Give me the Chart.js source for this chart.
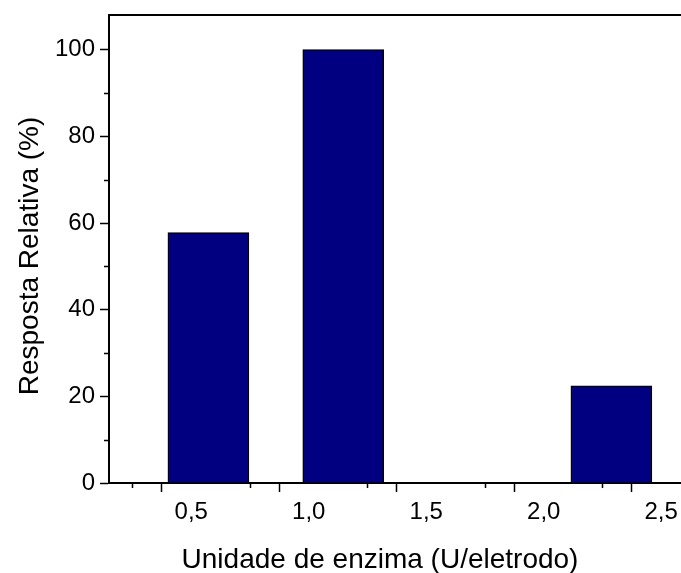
<!DOCTYPE html>
<html>
<head>
<meta charset="utf-8">
<script src="https://cdn.jsdelivr.net/npm/chart.js@4"></script>
<style>
  html, body { margin: 0; padding: 0; background: #fff; overflow: hidden; }
  #wrap { width: 681px; height: 573px; }
</style>
</head>
<body>
<div id="wrap"><canvas id="myChart" width="681" height="573"></canvas></div>
<script>
// bar centres on the x axis (U/eletrodo) and heights (%)
const enzymeUnits = [0.573, 1.147, 2.288];
const relativeResponse = [57.8, 100, 22.4];

// tick positions, majors carry a label
const xTicks = [0.25, 0.5, 0.75, 1.0, 1.25, 1.5, 1.75, 2.0, 2.25, 2.5];
const yTicks = [0, 10, 20, 30, 40, 50, 60, 70, 80, 90, 100];

const xTitle = "Unidade de enzima (U/eletrodo)";
const yTitle = "Resposta Relativa (%)";

const FONT = "Arial, 'Liberation Sans', sans-serif";

function isMajorX(v) { return Math.abs(v * 2 - Math.round(v * 2)) < 1e-6; }
function isMajorY(v) { return v % 20 === 0; }

// Chart.js has one tick length per axis, so the short minor ticks are added here
const minorTicks = {
  id: "minorTicks",
  afterDraw(chart) {
    const ctx = chart.ctx;
    const x = chart.scales.x;
    const y = chart.scales.y;
    ctx.save();
    ctx.strokeStyle = "#000";
    ctx.lineWidth = 1.5;
    ctx.beginPath();
    x.ticks.forEach((t) => {
      if (isMajorX(t.value)) return;
      const px = Math.round(x.getPixelForValue(t.value)) + 0.5;
      ctx.moveTo(px, x.top);
      ctx.lineTo(px, x.top + 5);
    });
    y.ticks.forEach((t) => {
      if (isMajorY(t.value)) return;
      const py = Math.round(y.getPixelForValue(t.value)) + 0.5;
      ctx.moveTo(y.right, py);
      ctx.lineTo(y.right - 5, py);
    });
    ctx.stroke();
    ctx.restore();
  },
};

// axis titles: the original page was wider than this crop, so the x title
// is not centred on the visible plot area
const axisTitles = {
  id: "axisTitles",
  afterDraw(chart) {
    const ctx = chart.ctx;
    ctx.save();
    ctx.fillStyle = "#000";
    ctx.font = "28px " + FONT;
    ctx.textAlign = "center";
    ctx.textBaseline = "alphabetic";
    ctx.fillText(xTitle, 380, 568);
    ctx.translate(38, 256);
    ctx.rotate(-Math.PI / 2);
    ctx.fillText(yTitle, 0, 0);
    ctx.restore();
  },
};

const ctx = document.getElementById("myChart");

new Chart(ctx, {
  type: "bar",
  data: {
    datasets: [{
      data: enzymeUnits.map((u, i) => ({ x: u, y: relativeResponse[i] })),
      backgroundColor: "#000080",
      borderColor: "#000000",
      borderWidth: 1.5,
      barThickness: 81,
    }],
  },
  options: {
    responsive: false,
    animation: false,
    devicePixelRatio: 1,
    layout: { padding: { top: 15, right: 1, bottom: 0, left: 0 } },
    plugins: { legend: { display: false }, tooltip: { enabled: false } },
    scales: {
      x: {
        type: "linear",
        position: "bottom",
        min: 0.15,
        max: 2.58,
        offset: false,
        afterBuildTicks: (s) => { s.ticks = xTicks.map((v) => ({ value: v })); },
        afterFit: (s) => { s.height = 90; s.paddingLeft = 0; s.paddingRight = 0; },
        grid: {
          drawOnChartArea: false,
          drawTicks: true,
          tickLength: 9,
          tickWidth: 1.5,
          tickColor: (c) => (c.tick && isMajorX(c.tick.value) ? "#000" : "rgba(0,0,0,0)"),
        },
        border: { display: true, color: "#000", width: 2 },
        ticks: {
          autoSkip: false,
          maxRotation: 0,
          padding: 6,
          color: "#000",
          font: { family: FONT, size: 24 },
          callback: (v) => (isMajorX(v) ? v.toFixed(1).replace(".", ",") : ""),
        },
        title: { display: false },
      },
      xTop: {
        type: "linear",
        position: "top",
        min: 0.15,
        max: 2.58,
        afterFit: (s) => { s.height = 0; },
        grid: { display: false },
        ticks: { display: false },
        border: { display: true, color: "#000", width: 2 },
      },
      y: {
        min: 0,
        max: 108,
        afterBuildTicks: (s) => { s.ticks = yTicks.map((v) => ({ value: v })); },
        afterFit: (s) => { s.width = 109; s.paddingTop = 0; s.paddingBottom = 0; },
        grid: {
          drawOnChartArea: false,
          drawTicks: true,
          tickLength: 9,
          tickWidth: 1.5,
          tickColor: (c) => (c.tick && isMajorY(c.tick.value) ? "#000" : "rgba(0,0,0,0)"),
        },
        border: { display: true, color: "#000", width: 2 },
        ticks: {
          autoSkip: false,
          padding: 5,
          color: "#000",
          font: { family: FONT, size: 24 },
          callback: (v) => (isMajorY(v) ? String(v) : ""),
        },
        title: { display: false },
      },
    },
  },
  plugins: [minorTicks, axisTitles],
});
</script>
</body>
</html>
